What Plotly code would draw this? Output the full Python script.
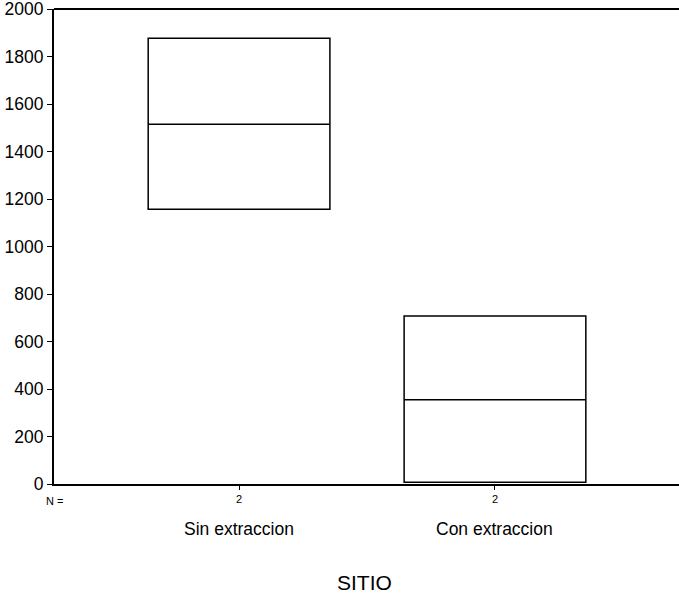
import plotly.graph_objects as go

categories = ["Sin extraccion", "Con extraccion"]
n_counts = ["2", "2"]
q1 = [1157, 7]
median = [1515, 355]
q3 = [1877, 707]
lower_fence = [1157, 7]
upper_fence = [1877, 707]

FONT = "Liberation Sans, Arial, sans-serif"

fig = go.Figure()
fig.add_trace(go.Box(
    x=categories, q1=q1, median=median, q3=q3,
    lowerfence=lower_fence, upperfence=upper_fence,
    width=0.71, whiskerwidth=0.5,
    fillcolor="white", line=dict(color="black", width=1.5),
    boxpoints=False, showlegend=False,
))

annotations = []
for c in categories:
    annotations.append(dict(x=c, xref="x", y=-0.0947, yref="paper",
                            text=c, showarrow=False, xanchor="center", yanchor="middle",
                            font=dict(family=FONT, size=17.5, color="black")))
annotations.append(dict(x=0.0, xref="paper", y=-0.0358, yref="paper", text="N =",
                        showarrow=False, xanchor="center", yanchor="middle",
                        font=dict(family=FONT, size=11, color="black")))
annotations.append(dict(x=0.497, xref="paper", y=-0.208, yref="paper", text="SITIO",
                        showarrow=False, xanchor="center", yanchor="middle",
                        font=dict(family=FONT, size=21, color="black")))

fig.update_layout(
    width=679, height=593,
    margin=dict(l=54, r=0, t=9, b=109),
    paper_bgcolor="white", plot_bgcolor="white",
    font=dict(family=FONT, color="black"),
    annotations=annotations,
    shapes=[dict(type="line", xref="paper", yref="paper", x0=0, x1=1, y0=1, y1=1,
                 line=dict(color="black", width=2))],
    xaxis=dict(type="category", categoryorder="array", categoryarray=categories,
               range=[-0.723, 1.719], tickvals=categories, ticktext=n_counts,
               ticks="outside", ticklen=4, tickcolor="black", tickwidth=1,
               tickfont=dict(family=FONT, size=11, color="black"),
               showline=True, linecolor="black", linewidth=2,
               showgrid=False, zeroline=False),
    yaxis=dict(range=[0, 2000], dtick=200, tick0=0,
               ticks="outside", ticklen=5, tickcolor="black", tickwidth=1,
               tickfont=dict(family=FONT, size=17.5, color="black"),
               ticklabeloverflow="allow",
               showline=True, linecolor="black", linewidth=2,
               showgrid=False, zeroline=False),
)

fig.write_html("out.html")
